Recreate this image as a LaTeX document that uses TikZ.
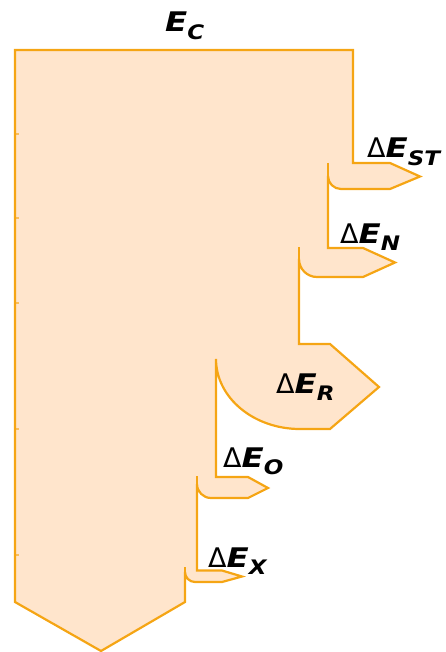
\documentclass[tikz,border=0pt]{standalone}
\usepackage{fontspec}
\setmainfont{DejaVu Sans}
\definecolor{flowfill}{RGB}{255,229,204}
\definecolor{flowedge}{RGB}{245,165,20}
% bold oblique symbol with a lowered subscript, set a little wide
\newcommand{\flowsym}[1]{\scalebox{1.2}[1]{\bfseries\itshape E}\raisebox{-7.5pt}{\scalebox{1.15}[1]{\fontsize{20}{22}\selectfont\bfseries\itshape #1}}}
\newcommand{\flowdelta}[1]{Δ\flowsym{#1}}
\tikzset{
  flow/.style={fill=flowfill, draw=flowedge, line width=2.2pt, line join=miter},
  edge/.style={draw=flowedge, line width=2.2pt},
  seam/.style={draw=flowedge, line width=1.2pt, opacity=0.6},
  lbl/.style={inner sep=0pt, anchor=base west, font=\fontsize{27}{29}\selectfont}
}
\begin{document}
\begin{tikzpicture}[x=1pt, y=-1pt]
\useasboundingbox (0,0) rectangle (446,652);
% trunk with the five outflows
\path[flow] (15,50) -- (353,50) -- (353,163)
  -- (390,163) -- (420,176.5) -- (390,189) -- (341,189)
  arc[start angle=270, end angle=180, radius=13pt] -- (328,248)
  -- (363,248) -- (395,262.5) -- (363,277) -- (317,277)
  arc[start angle=270, end angle=180, radius=18pt] -- (299,344)
  -- (330,344) -- (379,387) -- (330,429) -- (300,429)
  arc[start angle=270, end angle=180, x radius=84pt, y radius=70pt] -- (216,477)
  -- (248,477) -- (268,488) -- (248,498) -- (211,498)
  arc[start angle=270, end angle=180, radius=14pt] -- (197,570.5)
  -- (222,570.5) -- (242,576.5) -- (222,582) -- (195,582)
  arc[start angle=270, end angle=180, radius=10pt] -- (185,602)
  -- (101,651) -- (15,602) -- cycle;
% short upper ends of the inner edges
\draw[edge] (328,163) -- (328,176);
\draw[edge] (299,247) -- (299,259);
\draw[edge] (197,476) -- (197,484);
\draw[edge] (185,567) -- (185,572);
% joins along the left edge
\foreach \yy in {134,218,303,429,555} \draw[seam] (15,\yy) -- (19,\yy);
% labels
\node[lbl] (ec) at (165,32) {\flowsym{C}};
\node[lbl] (st) at (367,158) {\flowdelta{ST}};
\node[lbl] (n) at (340,243) {\flowdelta{N}};
\node[lbl] (r) at (276,393) {\flowdelta{R}};
\node[lbl] (o) at (223,467) {\flowdelta{O}};
\node[lbl] (x) at (208,567) {\flowdelta{X}};
\end{tikzpicture}
\end{document}
